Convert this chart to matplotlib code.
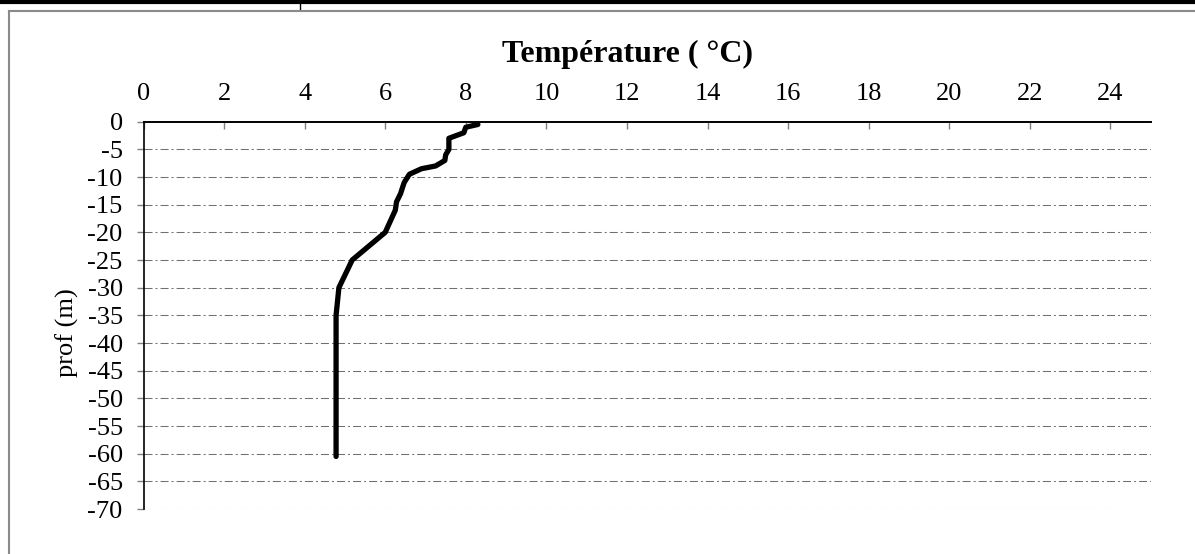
import matplotlib
matplotlib.use("Agg")
import matplotlib.pyplot as plt
from matplotlib.lines import Line2D

# Data (temperature profile)
temperature = [8.30, 8.00, 7.95, 7.58, 7.58, 7.50, 7.48, 7.25, 6.90, 6.60,
               6.47, 6.38, 6.28, 6.25, 6.00, 5.18, 4.85, 4.78, 4.78, 4.78,
               4.78, 4.78, 4.78]
depth = [-0.5, -1.0, -2.0, -3.0, -5.0, -6.0, -7.0, -8.0, -8.5, -9.5,
         -11.0, -13.0, -14.5, -16.0, -20.0, -25.0, -30.0, -35.0, -40.0, -45.0,
         -50.0, -55.0, -60.5]
x_ticks = list(range(0, 25, 2))
y_ticks = list(range(0, -75, -5))

plt.rcParams['font.family'] = ['Liberation Serif', 'DejaVu Serif']
plt.rcParams['axes.unicode_minus'] = False

W, H = 1195, 554
fig = plt.figure(figsize=(W / 100, H / 100), dpi=100)

# outer decorations (frame)
fig.add_artist(Line2D([0, 1], [1 - 1.8 / H, 1 - 1.8 / H], color='black', lw=3.0,
                      transform=fig.transFigure))
fig.add_artist(Line2D([300 / W, 300 / W], [1, 1 - 10 / H], color='black', lw=1.0,
                      transform=fig.transFigure))
fig.add_artist(Line2D([8.5 / W, 1], [1 - 10.5 / H, 1 - 10.5 / H], color='#8a8a8a', lw=1.5,
                      transform=fig.transFigure))
fig.add_artist(Line2D([8.5 / W, 8.5 / W], [0, 1 - 10.5 / H], color='#8a8a8a', lw=1.5,
                      transform=fig.transFigure))

left, right = 143.5 / W, 1150.7 / W
top, bottom = 1 - 121.7 / H, 1 - 509 / H
ax = fig.add_axes([left, bottom, right - left, top - bottom])

ax.plot(temperature, depth, color='black', lw=3.8, solid_capstyle='round',
        solid_joinstyle='round', zorder=3)

ax.set_xlim(0, 25)
ax.set_ylim(-70, 0)
ax.set_xticks(x_ticks)
ax.set_yticks(y_ticks)
ax.xaxis.tick_top()
ax.tick_params(axis='x', direction='in', length=5, width=1, color='#808080',
               labelsize=19, pad=12)
ax.tick_params(axis='y', direction='out', length=5, width=1, color='#808080',
               labelsize=19, pad=10)

for s in ['right', 'bottom']:
    ax.spines[s].set_visible(False)
ax.spines['top'].set_linewidth(1.4)
ax.spines['left'].set_linewidth(1.2)

for yv in y_ticks[1:]:
    ax.axhline(yv, color='#707070', lw=0.75, dashes=(7.7, 2.9, 1.9, 2.9), zorder=1)

fig.text(628 / W, 1 - 54 / H, 'Température ( °C)', ha='center', va='center',
         fontsize=23, fontweight='bold')
fig.text(67 / W, 1 - 333 / H, 'prof (m)', ha='center', va='center',
         rotation=90, fontsize=19)

fig.savefig('out.png', dpi=100)
